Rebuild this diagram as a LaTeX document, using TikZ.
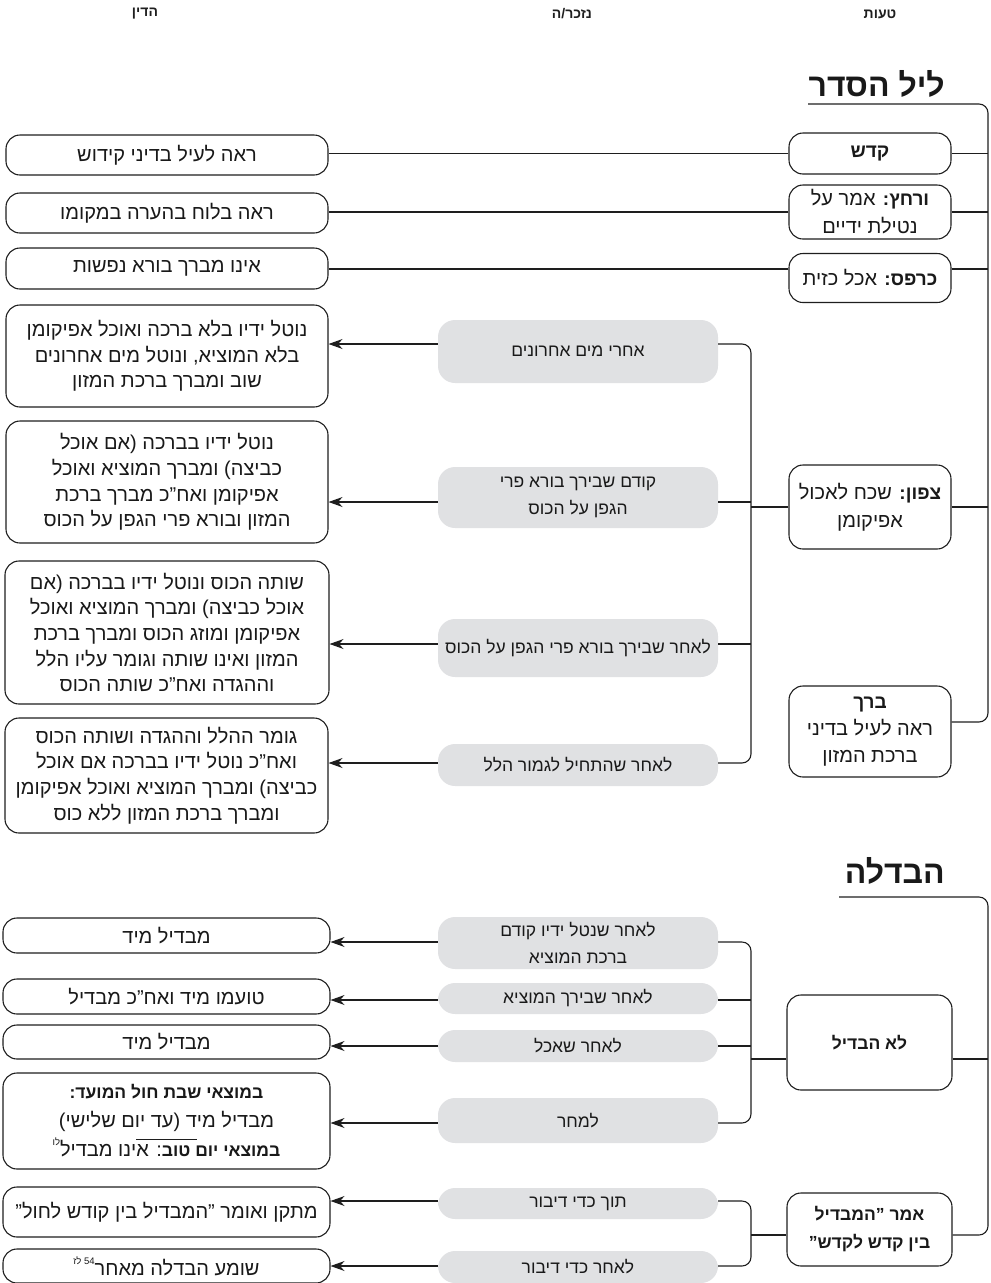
\documentclass[tikz,border=0pt]{standalone}
\usepackage{fontspec}
\setmainfont{Liberation Sans}[Script=Hebrew]
\usetikzlibrary{arrows.meta}
\TeXXeTstate=1
\newcommand\heR[1]{\beginR #1\endR}
\newcommand\B[1]{{\bfseries\fontsize{17.5}{25.5}\selectfont #1}}
\newcommand\Bk[1]{{\bfseries\fontsize{19}{25.5}\selectfont #1}}
\newcommand\hsup[1]{\raisebox{0.55em}{\fontsize{9.5}{9.5}\selectfont\beginR #1\endR}}
\definecolor{boxgray}{RGB}{224,225,227}
\definecolor{linec}{RGB}{30,30,30}
\begin{document}
\begin{tikzpicture}[x=1pt,y=-1pt,
  txt/.style={font=\fontsize{20}{25.7}\selectfont, align=center, inner sep=0pt, text=black!90},
  dbox/.style={txt, draw=linec, line width=1.1pt, rounded corners=14pt, fill=white},
  kbox/.style={dbox, font=\fontsize{20}{28}\selectfont, minimum width=162pt},
  gbox/.style={txt, font=\fontsize{17.5}{27}\selectfont, fill=boxgray, rounded corners=17pt, minimum width=280pt},
  conn/.style={draw=linec, line width=1.1pt},
  tree/.style={conn, rounded corners=9pt},
  arr/.style={conn, -{Stealth[length=14pt,width=10pt]}},
  head/.style={font=\bfseries\fontsize{14}{16}\selectfont, inner sep=0pt, text=black!88},
  title/.style={font=\bfseries\fontsize{32}{38}\selectfont, inner sep=0pt, anchor=base east, text=black!90},
]
\useasboundingbox (0,0) rectangle (991,1283);

% headers
\node[head] (hd1) at (880,14) {\heR{טעות}};
\node[head] (hd2) at (572,14) {\heR{נזכר/ה}};
\node[head] (hd3) at (145,14) {\heR{הדין}};

% titles
\node[title] (t1) at (945,96) {\heR{ליל הסדר}};
\node[title] (t2) at (945,883) {\heR{הבדלה}};
\coordinate (u1) at (808,104);
\coordinate (u2) at (839,897);
\coordinate (o1) at (988,400);
\coordinate (o2) at (988,1100);

% column 1 (upper)
\node[kbox, minimum height=41pt] (k1) at (870,153.5) {\heR{\Bk{קדש}}};
\node[kbox, minimum height=54pt] (k2) at (870,212) {\heR{\Bk{ורחץ:} אמר על}\\\heR{נטילת ידיים}};
\node[kbox, minimum height=49pt] (k3) at (870,278) {\heR{\Bk{כרפס:} אכל כזית}};
\node[kbox, minimum height=84pt] (k4) at (870,507) {\heR{\Bk{צפון:} שכח לאכול}\\\heR{אפיקומן}};
\node[kbox, minimum height=91pt, font=\fontsize{20}{27}\selectfont] (k5) at (870,731.5) {\heR{\Bk{ברך}}\\\heR{ראה לעיל בדיני}\\\heR{ברכת המזון}};

% column 3 (upper)
\node[dbox, minimum width=322pt, minimum height=40pt] (d1) at (167,155) {\heR{ראה לעיל בדיני קידוש}};
\node[dbox, minimum width=322pt, minimum height=40pt] (d2) at (167,213) {\heR{ראה בלוח בהערה במקומו}};
\node[dbox, minimum width=322pt, minimum height=41pt] (d3) at (167,268.5) {\heR{אינו מברך בורא נפשות}};
\node[dbox, minimum width=322pt, minimum height=102pt] (d4) at (167,356) {\heR{נוטל ידיו בלא ברכה ואוכל אפיקומן}\\\heR{בלא המוציא, ונוטל מים אחרונים}\\\heR{שוב ומברך ברכת המזון}};
\node[dbox, minimum width=322pt, minimum height=122pt] (d5) at (167,482) {\heR{נוטל ידיו בברכה (אם אוכל}\\\heR{כביצה) ומברך המוציא ואוכל}\\\heR{אפיקומן ואח”כ מברך ברכת}\\\heR{המזון ובורא פרי הגפן על הכוס}};
\node[dbox, minimum width=324pt, minimum height=143pt] (d6) at (167,632.5) {\heR{שותה הכוס ונוטל ידיו בברכה (אם}\\\heR{אוכל כביצה) ומברך המוציא ואוכל}\\\heR{אפיקומן ומוזג הכוס ומברך ברכת}\\\heR{המזון ואינו שותה וגומר עליו הלל}\\\heR{וההגדה ואח”כ שותה הכוס}};
\node[dbox, minimum width=323pt, minimum height=115pt] (d7) at (166.5,775.5) {\heR{גומר ההלל וההגדה ושותה הכוס}\\\heR{ואח”כ נוטל ידיו בברכה אם אוכל}\\\heR{כביצה) ומברך המוציא ואוכל אפיקומן}\\\heR{ומברך ברכת המזון ללא כוס}};

% gray (upper)
\node[gbox, minimum height=63pt] (g1) at (578,351.5) {\heR{אחרי מים אחרונים}};
\node[gbox, minimum height=61pt] (g2) at (578,497.5) {\heR{קודם שבירך בורא פרי}\\\heR{הגפן על הכוס}};
\node[gbox, minimum height=58pt] (g3) at (578,648) {\heR{לאחר שבירך בורא פרי הגפן על הכוס}};
\node[gbox, minimum height=42pt] (g4) at (578,765) {\heR{לאחר שהתחיל לגמור הלל}};

% level coordinates (upper)
\coordinate (Yk3) at (0,269);
\coordinate (Yk5) at (0,722);
\coordinate (Ya) at (0,344);
\coordinate (Yb) at (0,502);
\coordinate (Yc) at (0,644);
\coordinate (Yd) at (0,763);
\coordinate (b1) at (751,500);

% upper connectors
\draw[tree] (u1) -| (o1) |- (k5.east |- Yk5);
\draw[conn] (k1.east) -- (k1.east -| o1);
\draw[conn] (k2.east) -- (k2.east -| o1);
\draw[conn] (k3.east |- Yk3) -- (o1 |- Yk3);
\draw[conn] (k4.east) -- (k4.east -| o1);
\draw[conn] (k1.west) -- (k1.west -| d1.east);
\draw[conn] (k2.west) -- (k2.west -| d2.east);
\draw[conn] (k3.west |- Yk3) -- (d3.east |- Yk3);
\draw[tree] (g1.east |- Ya) -| (b1) |- (g4.east |- Yd);
\draw[conn] (g2.east |- Yb) -- (b1 |- Yb);
\draw[conn] (g3.east |- Yc) -- (b1 |- Yc);
\draw[conn] (k4.west) -- (k4.west -| b1);
\draw[arr] (g1.west |- Ya) -- (d4.east |- Ya);
\draw[arr] (g2.west |- Yb) -- (d5.east |- Yb);
\draw[arr] (g3.west |- Yc) -- (d6.east |- Yc);
\draw[arr] (g4.west |- Yd) -- (d7.east |- Yd);

% lower column 1
\node[kbox, minimum width=165pt, minimum height=95pt] (l1) at (869.5,1042.5) {\heR{\B{לא הבדיל}}};
\node[kbox, minimum width=165pt, minimum height=73pt] (l2) at (869.5,1229.5) {\heR{\B{אמר ”המבדיל}}\\\heR{\B{בין קדש לקדש”}}};

% lower gray
\node[gbox, minimum height=52pt] (h1) at (578,943) {\heR{לאחר שנטל ידיו קודם}\\\heR{ברכת המוציא}};
\node[gbox, minimum height=31pt] (h2) at (578,998.5) {\heR{לאחר שבירך המוציא}};
\node[gbox, minimum height=32pt] (h3) at (578,1046) {\heR{לאחר שאכל}};
\node[gbox, minimum height=45pt] (h4) at (578,1120.5) {\heR{למחר}};
\node[gbox, minimum height=31pt] (h5) at (578,1203.5) {\heR{תוך כדי דיבור}};
\node[gbox, minimum height=32pt] (h6) at (578,1267) {\heR{לאחר כדי דיבור}};

% lower column 3
\node[dbox, minimum width=327pt, minimum height=35pt] (e1) at (166.5,935.5) {\heR{מבדיל מיד}};
\node[dbox, minimum width=327pt, minimum height=35pt] (e2) at (166.5,996.5) {\heR{טועמו מיד ואח”כ מבדיל}};
\node[dbox, minimum width=327pt, minimum height=34pt] (e3) at (166.5,1042) {\heR{מבדיל מיד}};
\node[dbox, minimum width=327pt, minimum height=96pt, font=\fontsize{20}{29}\selectfont] (e4) at (166.5,1121) {\heR{\B{במוצאי שבת חול המועד:}}\\\heR{מבדיל מיד (עד יום שלישי)}\\\heR{\B{במוצאי יום טוב}: אינו מבדיל\hsup{לו}}};
\node[dbox, minimum width=327pt, minimum height=50pt] (e5) at (166.5,1212) {\heR{מתקן ואומר ”המבדיל בין קודש לחול”}};
\node[dbox, minimum width=327pt, minimum height=34pt] (e6) at (166.5,1266) {\heR{שומע הבדלה מאחר\hsup{54 לז}}};
\draw[line width=0.8pt, draw=linec] (136,1139) -- (197,1139);

% lower coordinates
\coordinate (Yl1) at (0,1059);
\coordinate (Yl2) at (0,1235);
\coordinate (Ye1) at (0,942);
\coordinate (Ye2) at (0,1000);
\coordinate (Ye3) at (0,1046);
\coordinate (Ye4) at (0,1123);
\coordinate (Ye5) at (0,1201);
\coordinate (Ye6) at (0,1266);
\coordinate (b3) at (751,1050);
\coordinate (b4) at (751,1230);

% lower connectors
\draw[tree] (u2) -| (o2) |- (l2.east |- Yl2);
\draw[conn] (l1.east |- Yl1) -- (o2 |- Yl1);
\draw[tree] (h1.east |- Ye1) -| (b3) |- (h4.east |- Ye4);
\draw[conn] (h2.east |- Ye2) -- (b3 |- Ye2);
\draw[conn] (h3.east |- Ye3) -- (b3 |- Ye3);
\draw[conn] (l1.west |- Yl1) -- (b3 |- Yl1);
\draw[tree] (h5.east |- Ye5) -| (b4) |- (h6.east |- Ye6);
\draw[conn] (l2.west |- Yl2) -- (b4 |- Yl2);
\draw[arr] (h1.west |- Ye1) -- (e1.east |- Ye1);
\draw[arr] (h2.west |- Ye2) -- (e2.east |- Ye2);
\draw[arr] (h3.west |- Ye3) -- (e3.east |- Ye3);
\draw[arr] (h4.west |- Ye4) -- (e4.east |- Ye4);
\draw[arr] (h5.west |- Ye5) -- (e5.east |- Ye5);
\draw[arr] (h6.west |- Ye6) -- (e6.east |- Ye6);
\end{tikzpicture}
\end{document}
